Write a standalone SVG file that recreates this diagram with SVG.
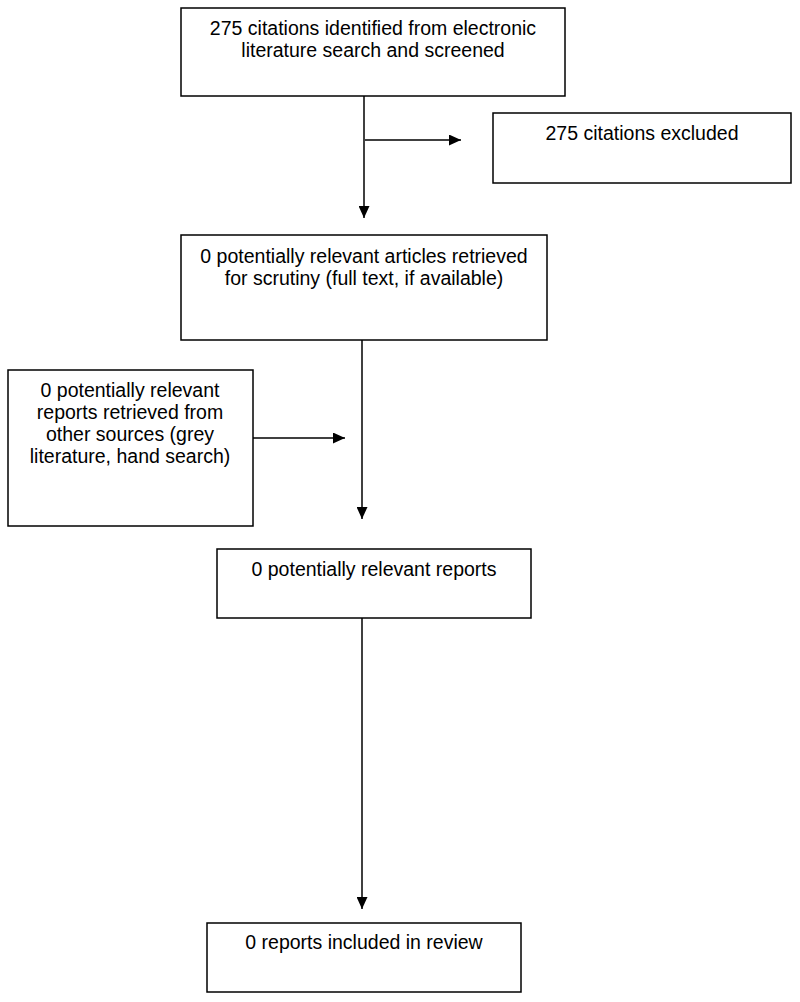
<svg xmlns="http://www.w3.org/2000/svg" width="800" height="1002" viewBox="0 0 800 1002">
<style>
rect{fill:#fff;stroke:#000;stroke-width:1.5}
text{font-family:"Liberation Sans",Arial,sans-serif;font-size:19.5px;fill:#000;text-anchor:middle}
.c line{stroke:#000;stroke-width:1.5}
</style>
<defs>
<marker id="ah" markerWidth="12" markerHeight="11" refX="12" refY="5.5" orient="auto" markerUnits="userSpaceOnUse">
<path d="M0,0 L12,5.5 L0,11 Z" fill="#000"/>
</marker>
</defs>
<rect x="0" y="0" width="800" height="1002" style="stroke:none"/>
<g class="c">
<line x1="364" y1="96" x2="364" y2="218" marker-end="url(#ah)"/>
<line x1="365" y1="140" x2="461" y2="140" marker-end="url(#ah)"/>
<line x1="362" y1="340" x2="362" y2="519" marker-end="url(#ah)"/>
<line x1="253" y1="438" x2="345" y2="438" marker-end="url(#ah)"/>
<line x1="362" y1="618" x2="362" y2="909" marker-end="url(#ah)"/>
</g>
<g id="n1"><rect x="181" y="8" width="384" height="88"/>
<text x="373" y="35">275 citations identified from electronic</text>
<text x="373" y="57">literature search and screened</text></g>
<g id="n2"><rect x="493" y="113" width="298" height="70"/>
<text x="642" y="140">275 citations excluded</text></g>
<g id="n3"><rect x="181" y="235" width="366" height="105"/>
<text x="364" y="263">0 potentially relevant articles retrieved</text>
<text x="364" y="285">for scrutiny (full text, if available)</text></g>
<g id="n4"><rect x="8" y="370" width="245" height="156"/>
<text x="130" y="397">0 potentially relevant</text>
<text x="130" y="419">reports retrieved from</text>
<text x="130" y="441">other sources (grey</text>
<text x="130" y="463">literature, hand search)</text></g>
<g id="n5"><rect x="217" y="549" width="314" height="69"/>
<text x="374" y="576">0 potentially relevant reports</text></g>
<g id="n6"><rect x="207" y="923" width="314" height="69"/>
<text x="364" y="949">0 reports included in review</text></g>
</svg>
